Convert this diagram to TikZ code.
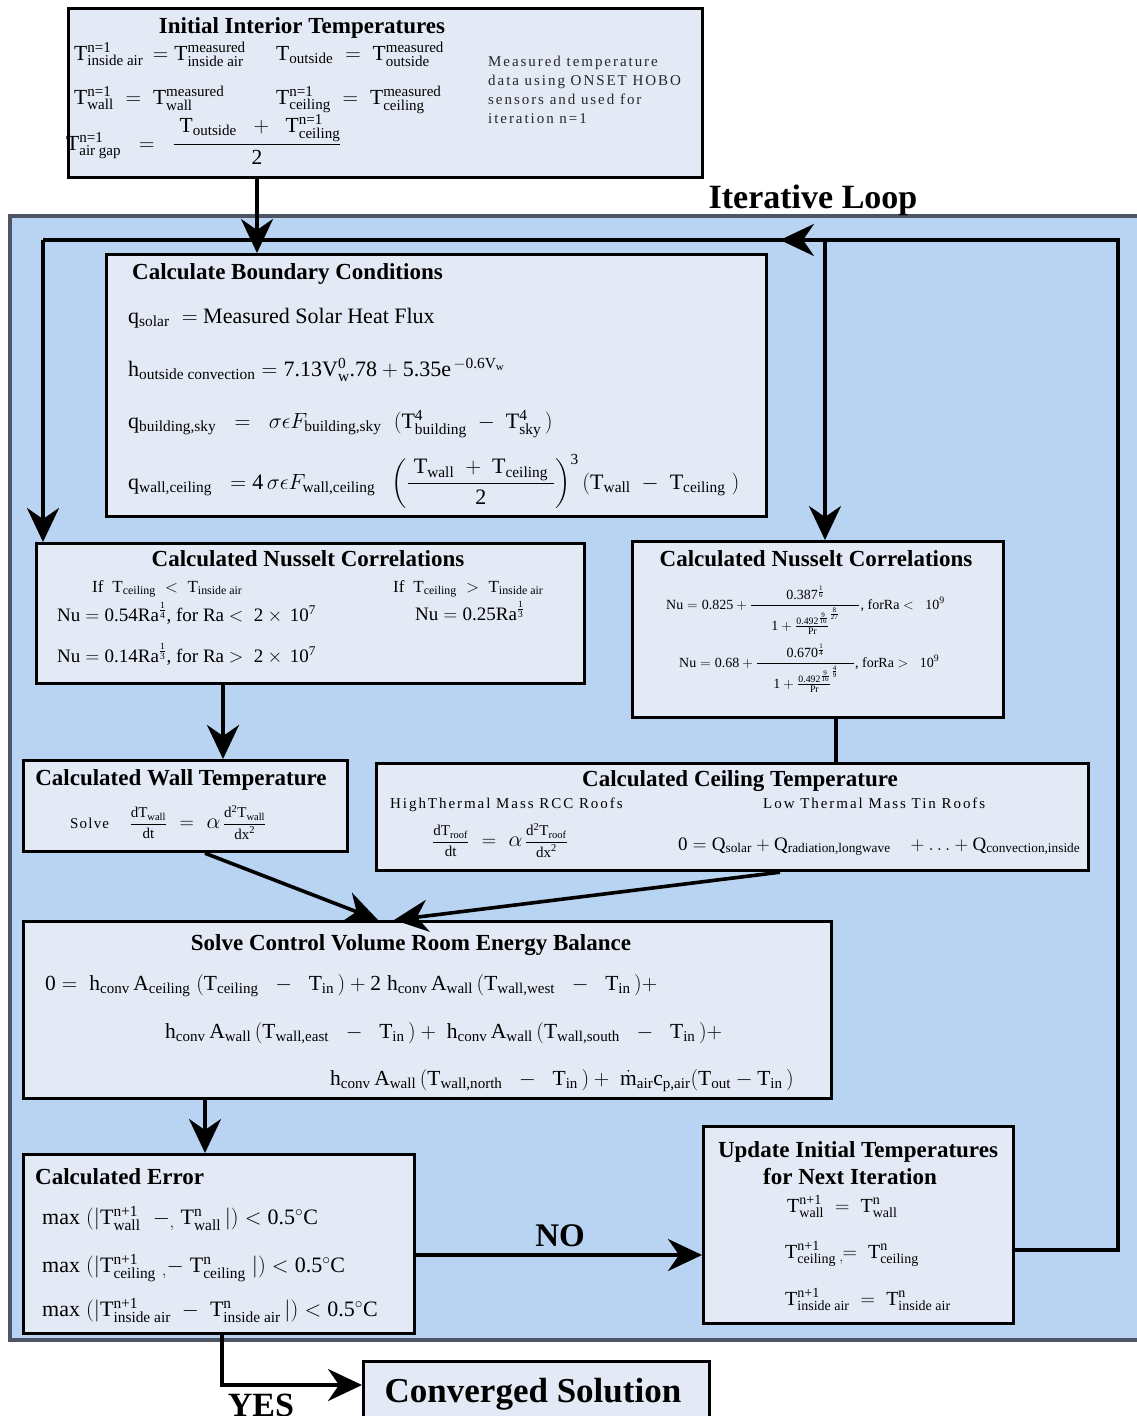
\RequirePackage{fix-cm}
\documentclass[tikz,border=0pt]{standalone}
\usepackage{amsmath}
\usepackage{fontspec}
\setmainfont{Liberation Serif}
\usetikzlibrary{arrows.meta}

% digits and decimal points in formulas come from the text face
\DeclareSymbolFont{lsdigits}{TU}{\rmdefault}{m}{n}
\AtBeginDocument{%
  \mathcode`0=\numexpr"7000+\symlsdigits*"100+"30\relax
  \mathcode`1=\numexpr"7000+\symlsdigits*"100+"31\relax
  \mathcode`2=\numexpr"7000+\symlsdigits*"100+"32\relax
  \mathcode`3=\numexpr"7000+\symlsdigits*"100+"33\relax
  \mathcode`4=\numexpr"7000+\symlsdigits*"100+"34\relax
  \mathcode`5=\numexpr"7000+\symlsdigits*"100+"35\relax
  \mathcode`6=\numexpr"7000+\symlsdigits*"100+"36\relax
  \mathcode`7=\numexpr"7000+\symlsdigits*"100+"37\relax
  \mathcode`8=\numexpr"7000+\symlsdigits*"100+"38\relax
  \mathcode`9=\numexpr"7000+\symlsdigits*"100+"39\relax
  \mathcode`.=\numexpr\symlsdigits*"100+"2E\relax}

\definecolor{loopblue}{HTML}{B8D4F2}
\definecolor{panelfill}{HTML}{E4EAF5}
\definecolor{loopedge}{HTML}{4E5563}

\newcommand{\Tm}{\mathrm{T}}
\newcommand{\fsz}[2]{\fontsize{#1}{#2}\selectfont}
\newcommand{\panel}[5]{\node[panel, minimum width=#4pt, minimum height=#5pt] (#1) at (#2,#3) {};}

\tikzset{
  panel/.style={draw=black, line width=3.2pt, fill=panelfill, inner sep=0pt, anchor=north west},
  ttl/.style={font=\fsz{23}{26}\bfseries, anchor=base, inner sep=0pt},
  eq/.style={anchor=base west, inner sep=0pt},
  bigword/.style={font=\fsz{34}{38}\bfseries, anchor=base, inner sep=0pt},
  spaced/.style={font=\fsz{15}{19}\addfontfeature{LetterSpace=13}},
  wire/.style={line width=3.6pt, black},
  arr/.style={wire, -{Stealth[length=34pt,width=32pt,inset=11pt]}},
}

\begin{document}
\begin{tikzpicture}[x=1pt, y=-1pt]
\useasboundingbox (0,0) rectangle (1137,1416);
\fill[white] (0,0) rectangle (1137,1416);

% iterative loop region
\fill[loopblue, draw=loopedge, line width=3.5pt] (10,216) rectangle (1150,1340);

% panels
\panel{init}{67}{7}{634}{169}
\panel{bc}{105}{253}{660}{262}
\panel{nuL}{35}{542}{548}{140}
\panel{nuR}{631}{540}{371}{176}
\panel{wall}{22}{759}{324}{91}
\panel{ceil}{375}{762}{712}{107}
\panel{ebal}{22}{920}{808}{177}
\panel{err}{22}{1153}{391}{179}
\panel{upd}{702}{1125}{310}{197}
\panel{conv}{362}{1360}{346}{80}

% loop routing points
\coordinate (loopR) at (1118,1250);
\coordinate (loopRT) at (1118,240);
\coordinate (loopLT) at (43,240);
\coordinate (loopBr) at (825,240);
\coordinate (loopTip) at (780,240);
\coordinate (noRow) at (560,1255);
\coordinate (yesCorner) at (222,1385);

% connectors
\draw[arr] ([xshift=190pt]init.south west) -- ([xshift=152pt]bc.north west);
\draw[wire] (upd.east |- loopR) -- (loopR) -- (loopRT) -- (loopLT);
\draw[arr] (loopLT) -- (loopLT |- nuL.north);
\draw[arr] (loopBr) -- (loopBr |- nuR.north);
\draw[arr] (loopBr) -- (loopTip);
\draw[arr] ([xshift=188pt]nuL.south west) -- ([xshift=201pt]wall.north west);
\draw[wire] ([xshift=205pt]nuR.south west) -- ([xshift=461pt]ceil.north west);
\draw[arr] ([xshift=183pt]wall.south west) -- ([xshift=356pt]ebal.north west);
\draw[arr] ([xshift=405pt]ceil.south west) -- ([xshift=372pt]ebal.north west);
\draw[arr] ([xshift=183pt]ebal.south west) -- ([xshift=183pt]err.north west);
\draw[arr] (err.east |- noRow) -- (upd.west |- noRow);
\draw[arr] ([xshift=200pt]err.south west) -- (yesCorner) -- (conv.west |- yesCorner);

% labels on the loop
\node[bigword] (lbl-loop) at (813,208) {Iterative Loop};
\node[bigword, font=\fsz{33}{36}\bfseries] (lbl-no) at (560,1246) {NO};
\node[bigword] (lbl-yes) at (261,1416) {YES};
\node[bigword, font=\fsz{35}{40}\bfseries] (lbl-conv) at (533,1402) {Converged Solution};

% initial interior temperatures
\node[ttl] (t-init) at (302,33) {Initial Interior Temperatures};
\node[eq, font=\fsz{21.5}{24}] (i1) at (74,60) {$\Tm^{\text{n=1}}_{\text{inside air}} \,=\Tm^{\text{measured}}_{\text{inside air}}$};
\node[eq, font=\fsz{21.5}{24}] (i2) at (276,60) {$\Tm_{\text{outside}} \;=\; \Tm^{\text{measured}}_{\text{outside}}$};
\node[eq, font=\fsz{21.5}{24}] (i3) at (74,104) {$\Tm^{\text{n=1}}_{\text{wall}} \;=\; \Tm^{\text{measured}}_{\text{wall}}$};
\node[eq, font=\fsz{21.5}{24}] (i4) at (276,104) {$\Tm^{\text{n=1}}_{\text{ceiling}} \;=\; \Tm^{\text{measured}}_{\text{ceiling}}$};
\node[eq, font=\fsz{21.5}{24}] (i5) at (66,150) {$\Tm^{\text{n=1}}_{\text{air gap}} \;\;=\;\; \dfrac{\;\Tm_{\text{outside}} \;\;+\;\; \Tm^{\text{n=1}}_{\text{ceiling}}}{2}$};
\node[anchor=north west, align=left, inner sep=0pt, spaced, text=black!85] (i-note) at (488,56)
  {Measured temperature\\data using ONSET HOBO\\sensors and used for\\iteration n=1};

% boundary conditions
\node[ttl, anchor=base west] (t-bc) at (132,279) {Calculate Boundary Conditions};
\node[eq, font=\fsz{22}{26}] (bc1) at (128,323) {$\mathrm{q}_{\text{solar}} \;=$ Measured Solar Heat Flux};
\node[eq, font=\fsz{22}{26}] (bc2) at (128,376) {$\mathrm{h}_{\text{outside convection}} = 7.13\mathrm{V}^{0}_{\mathrm{w}}.78 + 5.35\mathrm{e}^{\,-0.6\mathrm{V}_{\mathrm{w}}}$};
\node[eq, font=\fsz{22}{26}] (bc3) at (128,428) {$\mathrm{q}_{\text{building,sky}} \;\;=\;\; \sigma\epsilon F_{\text{building,sky}}\;\; (\Tm^{4}_{\text{building}} \;-\; \Tm^{4}_{\text{sky}}\,)$};
\node[eq, font=\fsz{22}{26}] (bc4) at (128,489) {$\mathrm{q}_{\text{wall,ceiling}} \;\;= 4\,\sigma\epsilon F_{\text{wall,ceiling}}\;\; \left(\dfrac{\;\Tm_{\text{wall}} \;+\; \Tm_{\text{ceiling}}\;}{2}\right)^{3} (\Tm_{\text{wall}} \;-\; \Tm_{\text{ceiling}}\;)$};

% Nusselt correlations, ceiling
\node[ttl] (t-nuL) at (308,566) {Calculated Nusselt Correlations};
\node[eq, font=\fsz{17}{20}] (nuL1) at (92,592) {If \;$\Tm_{\text{ceiling}} \;<\; \Tm_{\text{inside air}}$};
\node[eq, font=\fsz{17}{20}] (nuL2) at (393,592) {If \;$\Tm_{\text{ceiling}} \;>\; \Tm_{\text{inside air}}$};
\node[eq, font=\fsz{19}{22}] (nuL3) at (57,621) {$\mathrm{Nu} = 0.54\mathrm{Ra}^{\frac14}$, for Ra $<\; 2\times\, 10^{7}$};
\node[eq, font=\fsz{19}{22}] (nuL4) at (415,620) {$\mathrm{Nu} = 0.25\mathrm{Ra}^{\frac13}$};
\node[eq, font=\fsz{19}{22}] (nuL5) at (57,662) {$\mathrm{Nu} = 0.14\mathrm{Ra}^{\frac13}$, for Ra $>\; 2\times\, 10^{7}$};

% Nusselt correlations, walls
\node[ttl] (t-nuR) at (816,566) {Calculated Nusselt Correlations};
\node[eq, font=\fsz{14}{17}] (nuR1) at (666,609) {$\mathrm{Nu} = 0.825 + \dfrac{0.387^{\frac16}}{\hspace{20pt}1+{\frac{0.492^{\frac{9}{16}}}{\mathrm{Pr}}}^{\frac{8}{27}}\hspace{20pt}}$, forRa $<\;\; 10^{9}$};
\node[eq, font=\fsz{14}{17}] (nuR2) at (679,667) {$\mathrm{Nu} = 0.68 + \dfrac{0.670^{\frac14}}{\hspace{16pt}1+{\frac{0.492^{\frac{9}{16}}}{\mathrm{Pr}}}^{\frac{4}{9}}\hspace{16pt}}$, forRa $>\;\; 10^{9}$};

% wall temperature
\node[ttl] (t-wall) at (181,785) {Calculated Wall Temperature};
\node[eq, font=\fsz{15}{18}] (wall1) at (70,828) {{\addfontfeature{LetterSpace=8}Solve}\;\;\;\; $\dfrac{\mathrm{dT}_{\text{wall}}}{\mathrm{dt}} \;\;\;\text{\fsz{20}{22}$=$}\;\;\; \text{\fsz{22}{24}$\alpha$}\,\dfrac{\mathrm{d}^2\Tm_{\text{wall}}}{\mathrm{dx}^2}$};

% ceiling temperature
\node[ttl] (t-ceil) at (740,786) {Calculated Ceiling Temperature};
\node[eq, spaced] (ceil1) at (390,808) {HighThermal Mass RCC Roofs};
\node[eq, spaced] (ceil2) at (763,808) {Low Thermal Mass Tin Roofs};
\node[eq, font=\fsz{15}{18}] (ceil3) at (432,846) {$\dfrac{\mathrm{dT}_{\text{roof}}}{\mathrm{dt}} \;\;\;\text{\fsz{20}{22}$=$}\;\;\; \text{\fsz{22}{24}$\alpha$}\,\dfrac{\mathrm{d}^2\Tm_{\text{roof}}}{\mathrm{dx}^2}$};
\node[eq, font=\fsz{19}{22}] (ceil4) at (678,850) {$0 = \mathrm{Q}_{\text{solar}} + \mathrm{Q}_{\text{radiation,longwave}} \;\;\; + \ldots + \mathrm{Q}_{\text{convection,inside}}$};

% room energy balance
\node[ttl] (t-ebal) at (411,950) {Solve Control Volume Room Energy Balance};
\node[eq, font=\fsz{21.5}{24}] (ebal1) at (45,990) {$0 = \;\mathrm{h}_{\text{conv}}\,\mathrm{A}_{\text{ceiling}}\;(\Tm_{\text{ceiling}} \;\;-\;\; \Tm_{\text{in}}\,) + 2\;\mathrm{h}_{\text{conv}}\,\mathrm{A}_{\text{wall}}\,(\Tm_{\text{wall,west}} \;\;-\;\; \Tm_{\text{in}}\,)+$};
\node[eq, font=\fsz{21.5}{24}] (ebal2) at (165,1038) {$\mathrm{h}_{\text{conv}}\,\mathrm{A}_{\text{wall}}\,(\Tm_{\text{wall,east}} \;\;-\;\; \Tm_{\text{in}}\,) + \;\mathrm{h}_{\text{conv}}\,\mathrm{A}_{\text{wall}}\,(\Tm_{\text{wall,south}} \;\;-\;\; \Tm_{\text{in}}\,)+$};
\node[eq, font=\fsz{21.5}{24}] (ebal3) at (330,1085) {$\mathrm{h}_{\text{conv}}\,\mathrm{A}_{\text{wall}}\,(\Tm_{\text{wall,north}} \;\;-\;\; \Tm_{\text{in}}\,) + \;\dot{\mathrm{m}}_{\text{air}}\mathrm{c}_{\text{p,air}}(\Tm_{\text{out}} - \Tm_{\text{in}}\,)$};

% convergence check
\node[ttl, anchor=base west] (t-err) at (35,1184) {Calculated Error};
\node[eq, font=\fsz{22}{25}] (err1) at (42,1224) {$\mathrm{max}\;(|\Tm^{\text{n+1}}_{\text{wall}} \;\;{-}_{,}\; \Tm^{\text{n}}_{\text{wall}}\,|) < 0.5^{\circ}\mathrm{C}$};
\node[eq, font=\fsz{22}{25}] (err2) at (42,1272) {$\mathrm{max}\;(|\Tm^{\text{n+1}}_{\text{ceiling}}\;{}_{,}{-}\; \Tm^{\text{n}}_{\text{ceiling}}\;|) < 0.5^{\circ}\mathrm{C}$};
\node[eq, font=\fsz{22}{25}] (err3) at (42,1316) {$\mathrm{max}\;(|\Tm^{\text{n+1}}_{\text{inside air}} \;-\; \Tm^{\text{n}}_{\text{inside air}}\,|) < 0.5^{\circ}\mathrm{C}$};

% update for next iteration
\node[ttl] (t-upd1) at (858,1157) {Update Initial Temperatures};
\node[ttl] (t-upd2) at (850,1184) {for Next Iteration};
\node[eq, font=\fsz{20}{24}] (upd1) at (787,1212) {$\Tm^{\text{n+1}}_{\text{wall}} \;=\; \Tm^{\text{n}}_{\text{wall}}$};
\node[eq, font=\fsz{20}{24}] (upd2) at (785,1258) {$\Tm^{\text{n+1}}_{\text{ceiling}}\,{}_{,}\!\!=\; \Tm^{\text{n}}_{\text{ceiling}}$};
\node[eq, font=\fsz{20}{24}] (upd3) at (785,1305) {$\Tm^{\text{n+1}}_{\text{inside air}} \;=\; \Tm^{\text{n}}_{\text{inside air}}$};
\end{tikzpicture}
\end{document}
